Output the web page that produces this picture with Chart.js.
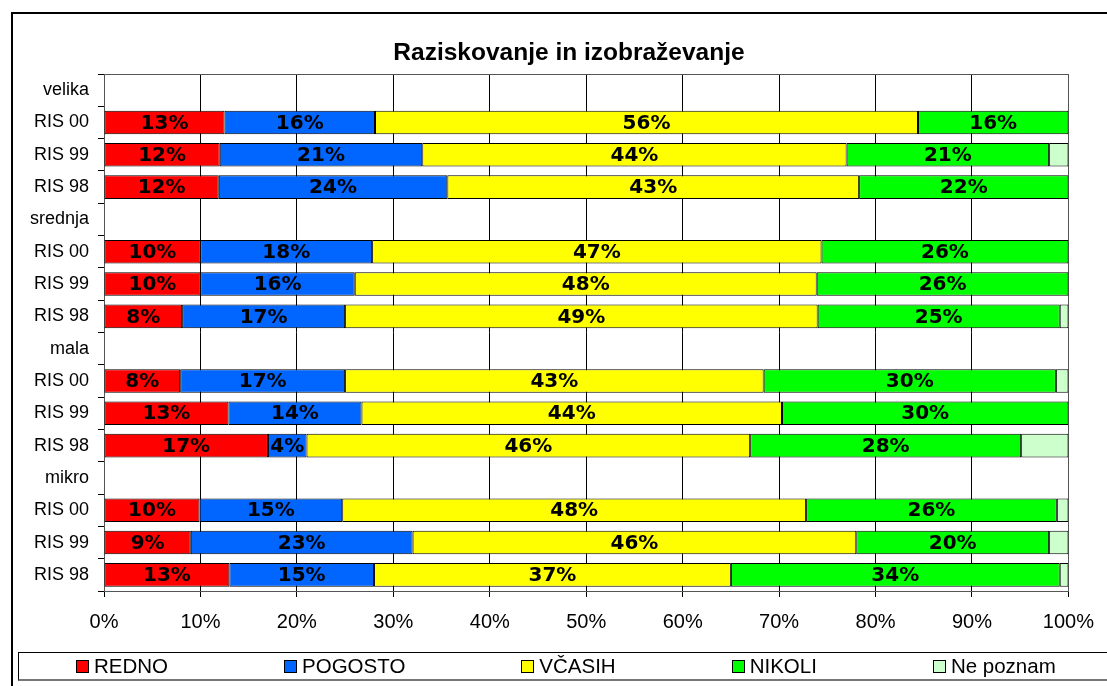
<!DOCTYPE html>
<html>
<head>
<meta charset="utf-8">
<script src="https://cdn.jsdelivr.net/npm/chart.js@4.4.1/dist/chart.umd.min.js"></script>
<style>
  html, body { margin: 0; padding: 0; background: #fff; overflow: hidden; width: 1107px; height: 686px; }
  #frame { position: absolute; left: 11px; top: 12px; width: 1300px; height: 900px; border-left: 2px solid #000; border-top: 2px solid #000; }
  #c { position: absolute; left: 0; top: 0; }
  #title { position: absolute; left: 369px; width: 400px; top: 38px; text-align: center;
           font-family: "Liberation Sans", Arial, sans-serif; font-weight: bold; font-size: 24.5px; line-height: 28px; color: #000; white-space: nowrap; }
  #legend { position: absolute; left: 18px; top: 652px; width: 1110px; height: 29px;
            border-top: 1px solid #000; border-left: 1px solid #000; border-bottom: 2px solid #777;
            display: flex; align-items: center; padding-left: 57px; box-sizing: border-box; gap: 116px;
            font-family: "Liberation Sans", Arial, sans-serif; font-size: 20.5px; color: #000; }
  .item { display: flex; align-items: center; white-space: nowrap; }
  .sw { width: 11px; height: 11px; border: 1.5px solid #000; margin-right: 5px; }
</style>
</head>
<body>
<div id="frame"></div>
<canvas id="c" width="1107" height="686"></canvas>
<div id="title"></div>
<div id="legend"></div>
<script>
const titleText = "Raziskovanje in izobraževanje";
const categories = ["velika","RIS 00","RIS 99","RIS 98","srednja","RIS 00","RIS 99","RIS 98","mala","RIS 00","RIS 99","RIS 98","mikro","RIS 00","RIS 99","RIS 98"];
const seriesNames = ["REDNO","POGOSTO","VČASIH","NIKOLI","Ne poznam"];
const redno    = [null, 12.5, 12.0, 11.9, null, 10.0, 10.0,  8.1, null,  7.9, 12.9, 17.0, null,  9.9,  9.0, 13.0];
const pogosto  = [null, 15.6, 21.0, 23.7, null, 17.8, 16.0, 16.9, null, 17.1, 13.8,  4.0, null, 14.8, 23.0, 15.0];
const vcasih   = [null, 56.3, 44.0, 42.7, null, 46.6, 47.9, 49.0, null, 43.4, 43.6, 46.0, null, 48.1, 46.0, 37.0];
const nikoli   = [null, 15.6, 21.0, 21.7, null, 25.6, 26.1, 25.1, null, 30.3, 29.7, 28.1, null, 26.0, 20.0, 34.1];
const nepoznam = [null,  0.0,  2.0,  0.0, null,  0.0,  0.0,  0.9, null,  1.3,  0.0,  4.9, null,  1.2,  2.0,  0.9];
const xTicks = [0,10,20,30,40,50,60,70,80,90,100];
const colors = ["#FF0000","#0066FF","#FFFF00","#00FF00","#CCFFCC"];
const seriesData = [redno, pogosto, vcasih, nikoli, nepoznam];
const labelledSeries = [true, true, true, true, false];

document.getElementById("title").textContent = titleText;

const datasets = seriesData.map((d, i) => ({
  label: seriesNames[i],
  data: d,
  backgroundColor: colors[i],
  borderColor: "#000",
  borderWidth: 1,
  borderSkipped: false,
  barPercentage: 0.73,
  categoryPercentage: 1.0
}));

const plotBorder = {
  id: "plotBorder",
  beforeDatasetsDraw(chart) {
    const {ctx, chartArea: a} = chart;
    ctx.save();
    ctx.strokeStyle = "#555";
    ctx.lineWidth = 1;
    ctx.strokeRect(Math.round(a.left) + 0.5, Math.round(a.top) + 0.5, Math.round(a.right - a.left), Math.round(a.bottom - a.top));
    ctx.restore();
  }
};

const valueLabels = {
  id: "valueLabels",
  afterDatasetsDraw(chart) {
    const ctx = chart.ctx;
    ctx.save();
    ctx.font = "bold 20px 'DejaVu Sans', Verdana, sans-serif";
    ctx.fillStyle = "#000";
    ctx.textAlign = "center";
    ctx.textBaseline = "middle";
    chart.data.datasets.forEach((ds, di) => {
      if (!labelledSeries[di]) return;
      const meta = chart.getDatasetMeta(di);
      meta.data.forEach((el, j) => {
        const v = ds.data[j];
        if (v === null || v <= 0) return;
        const p = el.getProps(["x","y","base"], true);
        ctx.fillText(Math.round(v) + "%", (p.x + p.base) / 2, p.y + 1);
      });
    });
    ctx.restore();
  }
};

new Chart(document.getElementById("c"), {
  type: "bar",
  data: { labels: categories, datasets },
  options: {
    indexAxis: "y",
    responsive: false,
    animation: false,
    layout: { padding: { left: 0, right: 35, top: 74, bottom: 50 } },
    plugins: {
      legend: { display: false },
      tooltip: { enabled: false },
      title: { display: false }
    },
    scales: {
      x: {
        stacked: true,
        min: 0, max: 100,
        afterBuildTicks(scale) { scale.ticks = xTicks.map(v => ({ value: v })); },
        afterFit(scale) { scale.height = 45; },
        grid: { color: "#000", lineWidth: 1, tickLength: 6, drawOnChartArea: true, drawTicks: true, tickColor: "#000" },
        border: { display: true, color: "#000", width: 1 },
        ticks: {
          color: "#000",
          padding: 13,
          font: { family: "'Liberation Sans', Arial, sans-serif", size: 20 },
          callback: v => v + "%"
        }
      },
      y: {
        stacked: true,
        afterFit(scale) { scale.width = 104; },
        grid: { display: true, offset: true, drawOnChartArea: false, drawTicks: true, tickLength: 6, color: "#000", tickColor: "#000" },
        border: { display: true, color: "#000", width: 1 },
        ticks: {
          color: "#000",
          padding: 9,
          font: { family: "'Liberation Sans', Arial, sans-serif", size: 18 }
        }
      }
    }
  },
  plugins: [plotBorder, valueLabels]
});

const legend = document.getElementById("legend");
seriesNames.forEach((n, i) => {
  const it = document.createElement("div");
  it.className = "item";
  const sw = document.createElement("div");
  sw.className = "sw";
  sw.style.background = colors[i];
  const t = document.createElement("span");
  t.textContent = n;
  it.appendChild(sw);
  it.appendChild(t);
  legend.appendChild(it);
});
</script>
</body>
</html>
